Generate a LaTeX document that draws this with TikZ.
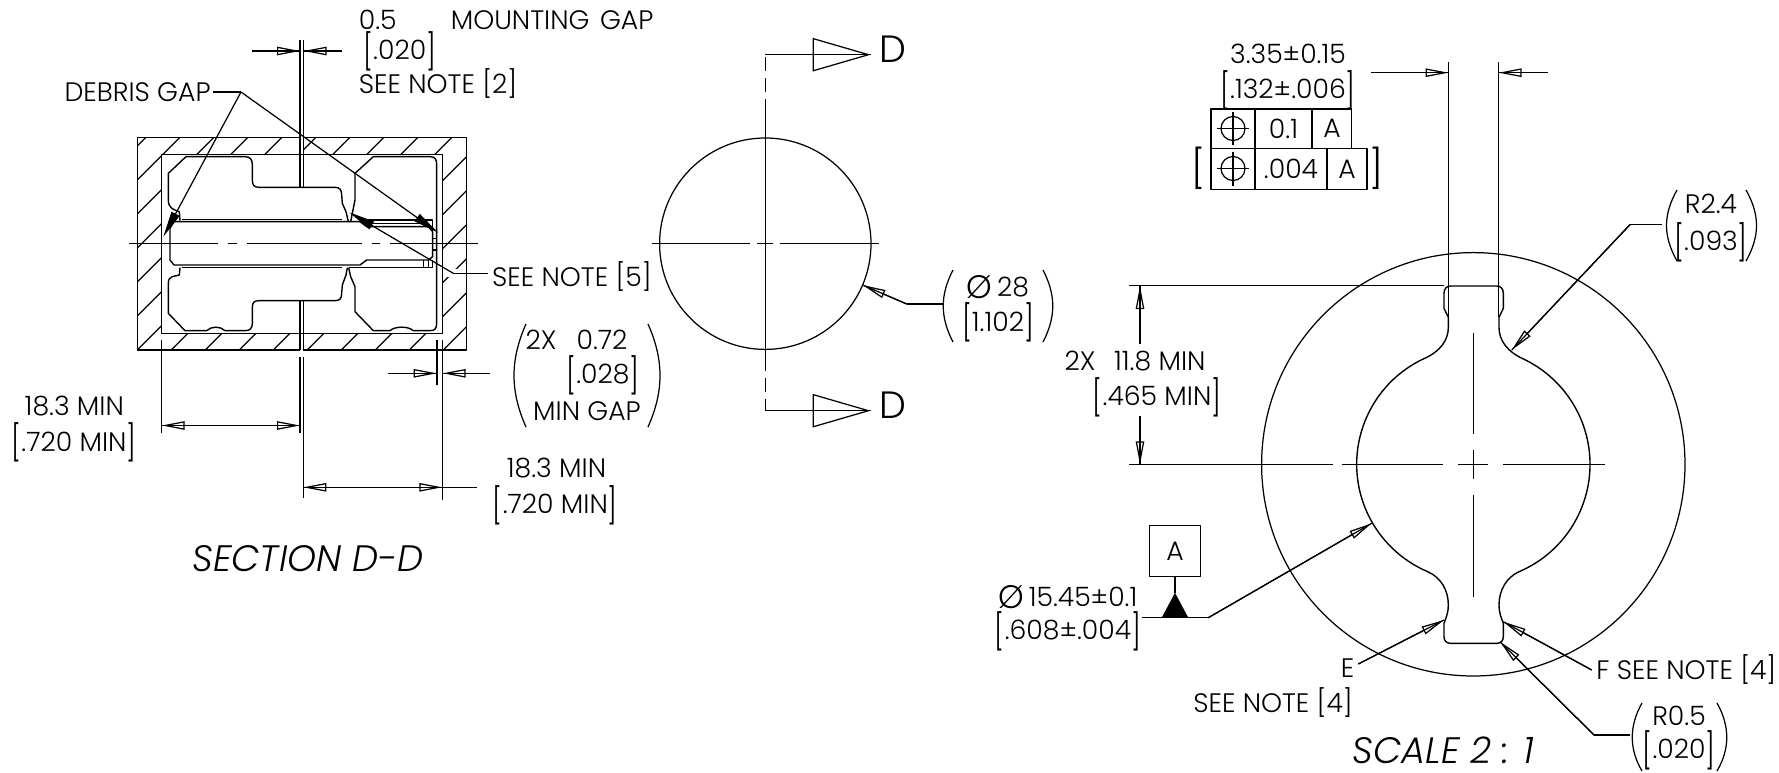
\documentclass[tikz,border=0pt]{standalone}
\usepackage{fontspec}
\setmainfont{Poppins}[UprightFont=*-Light,ItalicFont=*-LightItalic]
\usetikzlibrary{arrows.meta}
\newcommand{\fsz}{\fontsize{13.35}{15}\selectfont}
\newcommand{\lb}{\raisebox{-.17em}{\scalebox{1}[1.32]{[}}}
\newcommand{\rb}{\raisebox{-.17em}{\scalebox{1}[1.32]{]}}}
\newcommand{\diam}{\raisebox{-.07em}{\scalebox{1.22}{Ø}}}
\tikzset{
 base/.style={line width=0.62pt,line join=round},
 lbl/.style={inner sep=0pt,font=\fsz},
 biglbl/.style={inner sep=0pt,font=\fontsize{19}{21}\selectfont},
 ital/.style={inner sep=0pt,font=\fontsize{18.4}{20}\selectfont\itshape},
 part/.style={base,line width=0.7pt},
 dimarrow/.style={base,-{Triangle[open,length=11.5pt,width=4.2pt]},postaction={draw,arrows=-}},
 dimboth/.style={base,{Triangle[open,length=11.5pt,width=4.2pt]}-{Triangle[open,length=11.5pt,width=4.2pt]},postaction={draw,arrows=-}},
 blackarrow/.style={base,-{Triangle[length=13pt,width=4.4pt]}},
 viewarrow/.style={base,-{Triangle[open,length=29pt,width=16.7pt]},postaction={draw,arrows=-}},
 centerl/.style={base},
}
\begin{document}
\begin{tikzpicture}[x=0.5pt,y=-0.5pt]
\useasboundingbox (0,0) rectangle (1779,772);
% ---------- section view: housing
\begin{scope}
\clip (137.3,137.7) rectangle (466.7,350);
\foreach \k in {-1,...,16}{
  \pgfmathsetmacro{\c}{317.3+34*\k}
  \draw[base] (120,{\c-120}) -- (480,{\c-480});
}
\end{scope}
\fill[white] (300.4,137) rectangle (303,351);
\draw[white,line width=4pt] (446,273.3) -- (459,273.3);
\draw[base,fill=white] (161.7,154.3) rectangle (442.3,333.3);
\draw[base] (300,137.7) -- (137.3,137.7) -- (137.3,350) -- (300,350);
\draw[base] (303.3,137.7) -- (466.7,137.7) -- (466.7,350) -- (303.3,350);
% part outline, zoom coordinates
\begin{scope}[shift={(100,100)},scale=1/3]
\draw[part] (240,362) -- (238,335) .. controls (222,330) and (205,325) .. (205,300) -- (205,220) -- (258,170) -- (435,170) .. controls (450,170) and (457,178) .. (457,195) -- (457,240) .. controls (457,255) and (462,262) .. (478,262) -- (705,262) .. controls (720,262) and (725,270) .. (725,285) -- (727,310) -- (738,335) -- (745,365);
\draw[part] (752,365) -- (765,300) -- (765,220) -- (820,170) -- (990,170) .. controls (1005,170) and (1010,178) .. (1010,192) -- (1010,670) .. controls (1010,685) and (1005,692) .. (990,692) -- (940,692) .. controls (925,678) and (885,678) .. (870,692) -- (820,692) -- (765,635) -- (765,560) -- (752,530) -- (746,503);
\draw[part] (240,503) -- (238,525) .. controls (225,530) and (205,525) .. (205,550) -- (205,640) -- (255,692) -- (320,692) .. controls (335,678) and (360,678) .. (375,692) -- (435,692) .. controls (450,692) and (457,685) .. (457,670) -- (457,622) .. controls (457,608) and (462,602) .. (478,602) -- (705,602) .. controls (720,602) and (725,595) .. (725,580) -- (727,555) -- (738,525) -- (742,503);
% shaft
\draw[part] (222,365) -- (780,365) -- (800,380) -- (985,380) -- (998,395) -- (998,470) -- (985,480) -- (800,480) -- (780,495) -- (222,495) -- (210,480) -- (210,385) -- cycle;
\draw[part] (245,359) -- (725,359) (245,503) -- (725,503) (746,503) -- (998,503) -- (998,480) (790,360) -- (998,360) -- (998,395);
\draw[part] (805,370) -- (985,370) (970,480) -- (970,503) (985,480) -- (985,503) (998,415) -- (1012,415) (998,450) -- (1012,450);
\end{scope}
% center gap lines
\draw[base] (300,40) -- (300,187.3) (303.3,40) -- (303.3,187.3);
\draw[base] (300,300.7) -- (300,350) (303.3,300.7) -- (303.3,350);
\draw[base] (300,357) -- (300,433) (303.3,357) -- (303.3,498);
% center line
\draw[centerl] (129.3,243.7) -- (218.3,243.7) (228.3,243.7) -- (236.7,243.7) (246.7,243.7) -- (361.7,243.7) (371.7,243.7) -- (380,243.7) (390,243.7) -- (478,243.7);
% extension lines
\draw[base] (161.7,340) -- (161.7,433);
\draw[base] (442.3,340) -- (442.3,500);
\draw[base,line width=0.9pt] (437,340) -- (437,385);
% top dim
\coordinate (gapL) at (300,51); \coordinate (gapR) at (303.6,51);
\coordinate (gapLt) at (252,51); \coordinate (gapRt) at (342,51);
\draw[dimarrow] (gapLt) -- (gapL);
\draw[dimarrow] (gapRt) -- (gapR);
\node[lbl,anchor=west] (t05) at (358.5,20) {0.5};
\node[lbl,anchor=west] (tmg) at (450.4,20) {MOUNTING\hspace{.12em} GAP};
\node[lbl,anchor=west] (t020) at (363,51) {\lb.020\rb};
\node[lbl,anchor=west] (tn2) at (358.5,84) {SEE NOTE [2]};
% debris gap
\node[lbl] (debris) at (137.6,92) {DEBRIS GAP};
\coordinate (dj) at (241,92);
\coordinate (dtipL) at (163.3,236.7);
\coordinate (dtipR) at (438.3,232.7);
\draw[base] (debris.east) ++(2,0) -- (dj);
\draw[blackarrow] (dj) -- (dtipL);
\draw[blackarrow] (dj) -- (dtipR);
% see note 5
\node[lbl,anchor=west] (tn5) at (491.7,277) {SEE NOTE [5]};
\coordinate (n5j) at (453.3,273.3);
\coordinate (n5tip) at (349.3,212.3);
\coordinate (n5s) at (488.3,273.3);
\draw[base] (n5s) -- (n5j);
\draw[blackarrow] (n5j) -- (n5tip);
% 2X 0.72
\coordinate (g2L) at (436.7,373.3); \coordinate (g2Lt) at (388,373.3);
\coordinate (g2R) at (442.7,373.3); \coordinate (g2Rt) at (490,373.3);
\draw[dimarrow] (g2Lt) -- (g2L);
\draw[dimarrow] (g2Rt) -- (g2R);
\node[lbl] (t2x) at (541,340) {2X};
\node[lbl] (t072) at (602,340) {0.72};
\node[lbl] (t028) at (603,375) {\lb.028\rb};
\node[lbl] (tmin) at (587,411) {MIN GAP};
\draw[base] (526,324) .. controls (510,360) and (510,391) .. (526,427);
\draw[base] (648,324) .. controls (664,360) and (664,391) .. (648,427);
% 18.3 dims
\coordinate (dl1) at (161.7,425.5); \coordinate (dl2) at (300,425.5);
\draw[dimboth] (dl1) -- (dl2);
\node[lbl] (tl1) at (74.3,406) {18.3 MIN};
\node[lbl] (tl2) at (74,442.5) {\lb.720 MIN\rb};
\coordinate (dr1) at (303.3,487.3); \coordinate (dr2) at (442.3,487.3); \coordinate (dr3) at (477.3,487.3);
\draw[dimboth] (dr1) -- (dr2);
\draw[base] (dr2) -- (dr3);
\node[lbl] (tr1) at (556.5,468) {18.3 MIN};
\node[lbl] (tr2) at (555.3,505) {\lb.720 MIN\rb};
\node[ital] (secdd) at (308,559) {SECTION D-D};
% ---------- middle view
\node[circle,draw,base,minimum size=105.7pt,inner sep=0pt] (disc) at (765.3,243.7) {};
\draw[centerl] (651.7,243.7) -- (750,243.7) (757.3,243.7) -- (772.7,243.7) (780,243.7) -- (879.3,243.7);
\draw[centerl] (765.3,112.7) -- (765.3,356.7);
\coordinate (secT) at (765.3,54.7); \coordinate (secB) at (765.3,410.7);
\draw[base,dash pattern=on 7pt off 3.5pt] (765.3,112.7) -- (secT);
\draw[base,dash pattern=on 7pt off 3.5pt] (765.3,356.7) -- (secB);
\coordinate (secTt) at (870.7,54.7); \coordinate (secBt) at (870.7,410.7);
\draw[viewarrow] (secT) -- (secTt);
\draw[viewarrow] (secB) -- (secBt);
\node[biglbl] (dT) at (892.5,49.3) {D};
\node[biglbl] (dB) at (892.5,405) {D};
\coordinate (o28s) at (943.3,304); \coordinate (o28j) at (906.7,304); \coordinate (o28t) at (862.7,285);
\draw[base] (o28s) -- (o28j);
\draw[dimarrow] (o28j) -- (o28t);
\node[lbl] (t28a) at (998,287.3) {\diam\,28};
\node[lbl] (t28b) at (998,322.7) {\lb 1.102\rb};
\draw[base] (953,270) .. controls (940,295) and (940,317) .. (953,342);
\draw[base] (1043,270) .. controls (1056,295) and (1056,317) .. (1043,342);
% ---------- keyhole view
\node[circle,draw,base,minimum size=211.7pt,inner sep=0pt] (outer) at (1473.3,464.3) {};
\begin{scope}[shift={(1250,240)},scale=1/3]
\draw[part] (747,262) -- (747,232) -- (760,205) -- (760,160) .. controls (760,146) and (752,138) .. (740,138) -- (602,138) .. controls (590,138) and (582,146) .. (582,160) -- (582,205) -- (595,232) -- (595,262) .. controls (595,300) and (572,335) .. (516.6,358.4) arc[start angle=244,end angle=113,radius=350] .. controls (572,1012) and (595,1050) .. (595,1095) .. controls (595,1115) and (590,1130) .. (582,1150) -- (582,1190) .. controls (582,1203) and (590,1210) .. (602,1210) -- (740,1210) .. controls (752,1210) and (760,1203) .. (760,1190) -- (760,1150) .. controls (752,1130) and (747,1115) .. (747,1095) .. controls (747,1050) and (770,1012) .. (806.8,995.2) arc[start angle=67,end angle=-64,radius=350] .. controls (770,335) and (747,300) .. (747,262) -- cycle;
\end{scope}
\draw[centerl] (1129,464.3) -- (1333,464.3) (1341.7,464.3) -- (1443.3,464.3) (1458,464.3) -- (1488,464.3) (1503,464.3) -- (1605,464.3);
\draw[centerl] (1473.3,332.7) -- (1473.3,434) (1473.3,450) -- (1473.3,479) (1473.3,495) -- (1473.3,596.7);
% width dim
\draw[base] (1448.5,62) -- (1448.5,317) (1498.5,62) -- (1498.5,317);
\coordinate (wL) at (1448.5,72.7); \coordinate (wLt) at (1371,72.7);
\coordinate (wR) at (1498.5,72.7); \coordinate (wRt) at (1548,72.7);
\draw[dimarrow] (wLt) -- (wL);
\draw[dimarrow] (wRt) -- (wR);
\node[lbl] (w1) at (1288,54) {3.35±0.15};
\node[lbl] (w2) at (1288,90) {\lb.132±.006\rb};
% feature control frame
\draw[base,line width=0.8pt] (1210.8,108.7) rectangle (1351.5,148.4);
\draw[base,line width=0.8pt] (1255,108.7) -- (1255,148.4) (1312,108.7) -- (1312,148.4);
\draw[base,line width=0.8pt] (1210.8,148.4) rectangle (1367,189.3);
\draw[base,line width=0.8pt] (1255,148.4) -- (1255,189.3) (1327,148.4) -- (1327,189.3);
\node[circle,draw,base,minimum size=12pt,inner sep=0pt] (pos1) at (1233,128.5) {};
\node[circle,draw,base,minimum size=12pt,inner sep=0pt] (pos2) at (1233,168.5) {};
\draw[base] (1217,128.5) -- (1249,128.5) (1233,112) -- (1233,145) (1217,168.5) -- (1249,168.5) (1233,152) -- (1233,186);
\node[lbl] (f1) at (1283.5,128.5) {0.1};
\node[lbl] (f2) at (1332,128.5) {A};
\node[lbl] (f3) at (1291,169) {.004};
\node[lbl] (f4) at (1347,169) {A};
\node[lbl,font=\fontsize{19}{21}\selectfont] (brL) at (1198,168) {[};
\node[lbl,font=\fontsize{19}{21}\selectfont] (brR) at (1376,168) {]};
% height dim
\draw[base] (1129,285.5) -- (1443.7,285.5);
\coordinate (hT) at (1140,286); \coordinate (hTt) at (1140,344);
\coordinate (hB) at (1140,464.3); \coordinate (hBt) at (1140,416);
\draw[dimarrow] (hTt) -- (hT);
\draw[dimarrow] (hBt) -- (hB);
\node[lbl] (h1) at (1135,361) {2X\hspace{.7em}11.8 MIN};
\node[lbl] (h2) at (1157,397) {\lb.465 MIN\rb};
% R2.4
\coordinate (r24s) at (1662,224.6); \coordinate (r24j) at (1630,224.6); \coordinate (r24t) at (1511.7,350);
\draw[base] (r24s) -- (r24j);
\draw[dimarrow] (r24j) -- (r24t);
\node[lbl] (r24a) at (1711,204) {R2.4};
\node[lbl] (r24b) at (1711,242) {\lb.093\rb};
\draw[base] (1677,190) .. controls (1663,215) and (1663,236) .. (1677,261);
\draw[base] (1746,190) .. controls (1760,215) and (1760,236) .. (1746,261);
% datum / Ø15.45
\node[lbl,draw,base,minimum width=25.8pt,minimum height=25.5pt] (datum) at (1175,551.2) {A};
\coordinate (dlS) at (1141.7,617.7); \coordinate (dlJ) at (1208.3,617.7); \coordinate (dlT) at (1371.7,523.3);
\draw[base] (dlS) -- (dlJ);
\draw[dimarrow] (dlJ) -- (dlT);
\coordinate (apex) at (1175,592.7);
\draw[base] (datum.south) -- (apex);
\fill[black] (1161.7,617.7) -- (apex) -- (1188.3,617.7) -- cycle;
\node[lbl] (o15a) at (1068,597) {\diam\,15.45±0.1};
\node[lbl] (o15b) at (1068,631) {\lb.608±.004\rb};
% E
\node[lbl] (tE) at (1347.7,668) {E};
\coordinate (eS) at (1358.3,664); \coordinate (eT) at (1444,620);
\draw[dimarrow] (eS) -- (eT);
\node[lbl] (tn4a) at (1273,702.7) {SEE NOTE [4]};
% F
\node[lbl,anchor=west] (tF) at (1596,670) {F SEE NOTE [4]};
\coordinate (fS) at (1591.7,670); \coordinate (fT) at (1503.3,621.7);
\draw[dimarrow] (fS) -- (fT);
% R0.5
\coordinate (r05s) at (1630,735); \coordinate (r05j) at (1594,735); \coordinate (r05t) at (1500,641.7);
\draw[base] (r05s) -- (r05j);
\draw[dimarrow] (r05j) -- (r05t);
\node[lbl] (r05a) at (1679,716) {R0.5};
\node[lbl] (r05b) at (1679,750) {\lb.020\rb};
\draw[base] (1642,703) .. controls (1629,726) and (1629,749) .. (1642,771);
\draw[base] (1717,703) .. controls (1730,726) and (1730,749) .. (1717,771);
\node[ital] (scale) at (1443.5,750) {SCALE 2 : 1};
\end{tikzpicture}
\end{document}
